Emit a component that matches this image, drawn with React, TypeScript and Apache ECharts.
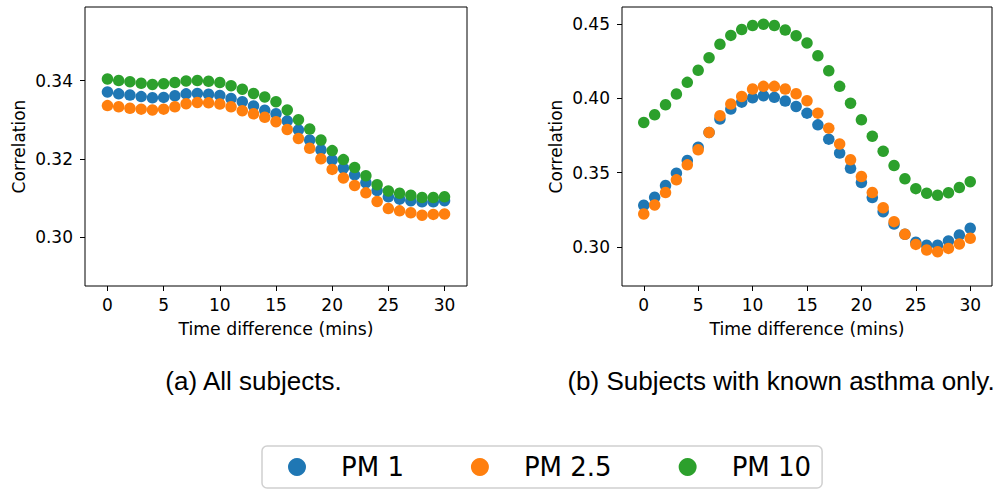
import React, { useEffect, useRef } from "react";
import * as echarts from "echarts";

const timeDiffs = [0, 1, 2, 3, 4, 5, 6, 7, 8, 9, 10, 11, 12, 13, 14, 15, 16, 17, 18, 19, 20, 21, 22, 23, 24, 25, 26, 27, 28, 29, 30];
const xTicks = [0, 5, 10, 15, 20, 25, 30];
const leftYTicks = [0.3, 0.32, 0.34];
const rightYTicks = [0.3, 0.35, 0.4, 0.45];
const seriesNames = ["PM 1", "PM 2.5", "PM 10"];
const colors = ["#1f77b4", "#ff7f0e", "#2ca02c"];

// (a) All subjects
const allPm1 = [0.3371, 0.3366, 0.3363, 0.3359, 0.3356, 0.3357, 0.3361, 0.3366, 0.3367, 0.3365, 0.3362, 0.3354, 0.3346, 0.3335, 0.3324, 0.3315, 0.3297, 0.3274, 0.3248, 0.3223, 0.3197, 0.3176, 0.3159, 0.3139, 0.3119, 0.3103, 0.3097, 0.3093, 0.309, 0.309, 0.3093];
const allPm25 = [0.3336, 0.3333, 0.3329, 0.3327, 0.3325, 0.3327, 0.3333, 0.3341, 0.3344, 0.3343, 0.334, 0.3333, 0.3323, 0.3315, 0.3306, 0.3295, 0.3275, 0.3252, 0.3227, 0.32, 0.3173, 0.3151, 0.3132, 0.3113, 0.3091, 0.3073, 0.3067, 0.3062, 0.3056, 0.3058, 0.3059];
const allPm10 = [0.3404, 0.34, 0.3397, 0.3393, 0.339, 0.3392, 0.3395, 0.3399, 0.34, 0.3398, 0.3395, 0.3387, 0.3378, 0.3367, 0.3358, 0.3346, 0.3325, 0.33, 0.3276, 0.3248, 0.3221, 0.3198, 0.3178, 0.3157, 0.3134, 0.3118, 0.3112, 0.3107, 0.3101, 0.3101, 0.3103];

// (b) Subjects with known asthma only
const asthmaPm1 = [0.328, 0.3334, 0.3413, 0.3496, 0.3581, 0.3671, 0.377, 0.386, 0.3927, 0.3974, 0.4003, 0.4017, 0.4006, 0.3981, 0.3945, 0.39, 0.3821, 0.3725, 0.3631, 0.3529, 0.3433, 0.3332, 0.3237, 0.3154, 0.3085, 0.3031, 0.3011, 0.3011, 0.304, 0.308, 0.3125];
const asthmaPm25 = [0.3222, 0.3282, 0.3366, 0.3451, 0.3552, 0.3653, 0.377, 0.3882, 0.3961, 0.4012, 0.4062, 0.408, 0.408, 0.4062, 0.403, 0.3983, 0.39, 0.3799, 0.3693, 0.3586, 0.3473, 0.3366, 0.3264, 0.317, 0.3085, 0.3017, 0.2979, 0.2968, 0.299, 0.302, 0.3058];
const asthmaPm10 = [0.3837, 0.3889, 0.3956, 0.4028, 0.4107, 0.4188, 0.4273, 0.4363, 0.4423, 0.4462, 0.4489, 0.4498, 0.4489, 0.4459, 0.4421, 0.4372, 0.4286, 0.4185, 0.408, 0.3967, 0.3855, 0.3745, 0.3644, 0.3547, 0.3458, 0.3392, 0.3361, 0.3347, 0.3365, 0.3399, 0.3439];

const captions = ["(a) All subjects.", "(b) Subjects with known asthma only."];

const FONT = "DejaVu Sans";

function xAxisCfg(gridIndex: number) {
  return {
    type: "value",
    gridIndex,
    min: -2,
    max: 32,
    name: "Time difference (mins)",
    nameLocation: "middle",
    nameGap: 34,
    nameTextStyle: { fontFamily: FONT, fontSize: 17.3, color: "#000" },
    axisLine: { show: false, onZero: false },
    axisTick: { show: true, customValues: xTicks, length: 5, lineStyle: { color: "#000", width: 1 } },
    axisLabel: { customValues: xTicks, margin: 10, fontFamily: FONT, fontSize: 17, color: "#000", formatter: (v: number) => String(v) },
    splitLine: { show: false },
  };
}

function yAxisCfg(gridIndex: number, min: number, max: number, ticks: number[]) {
  return {
    type: "value",
    gridIndex,
    min,
    max,
    name: "Correlation",
    nameLocation: "middle",
    nameRotate: 90,
    nameGap: 58,
    nameTextStyle: { fontFamily: FONT, fontSize: 17, color: "#000" },
    axisLine: { show: false, onZero: false },
    axisTick: { show: true, customValues: ticks, length: 5, lineStyle: { color: "#000", width: 1 } },
    axisLabel: { customValues: ticks, margin: 12, fontFamily: FONT, fontSize: 17, color: "#000", formatter: (v: number) => v.toFixed(2) },
    splitLine: { show: false },
  };
}

function scatter(name: string, values: number[], idx: number, color: string) {
  return {
    type: "scatter",
    name,
    xAxisIndex: idx,
    yAxisIndex: idx,
    symbol: "circle",
    symbolSize: 11.5,
    itemStyle: { color, opacity: 1 },
    emphasis: { disabled: true },
    data: timeDiffs.map((t, i) => [t, values[i]]),
  };
}

export default function App() {
  const ref = useRef<HTMLDivElement>(null);
  useEffect(() => {
    document.body.style.margin = "0";
    const chart = echarts.init(ref.current!, null, { renderer: "svg" });
    chart.setOption({
      animation: false,
      backgroundColor: "#fff",
      grid: [
        { left: 85, top: 7, width: 382, height: 279, show: true, borderColor: "#000", borderWidth: 1, backgroundColor: "transparent" },
        { left: 622, top: 7, width: 370, height: 279, show: true, borderColor: "#000", borderWidth: 1, backgroundColor: "transparent" },
      ],
      xAxis: [xAxisCfg(0), xAxisCfg(1)],
      yAxis: [yAxisCfg(0, 0.2875, 0.3588, leftYTicks), yAxisCfg(1, 0.2737, 0.4614, rightYTicks)],
      legend: {
        data: seriesNames.map((n) => ({ name: n, icon: "circle" })),
        left: 262,
        top: 446,
        orient: "horizontal",
        itemWidth: 18,
        itemHeight: 18,
        itemGap: 67,
        padding: [8, 11, 8, 26],
        borderColor: "#d0d0d0",
        borderWidth: 1.5,
        borderRadius: 5,
        selectedMode: false,
        textStyle: { fontFamily: FONT, fontSize: 26, color: "#000", padding: [0, 0, 0, 30] },
      },
      graphic: [
        { type: "text", x: 253.5, y: 381, style: { text: captions[0], font: "26px 'Liberation Sans'", fill: "#000", textAlign: "center", textVerticalAlign: "middle" } },
        { type: "text", x: 781, y: 381, style: { text: captions[1], font: "26px 'Liberation Sans'", fill: "#000", textAlign: "center", textVerticalAlign: "middle" } },
      ],
      series: [
        scatter(seriesNames[0], allPm1, 0, colors[0]),
        scatter(seriesNames[1], allPm25, 0, colors[1]),
        scatter(seriesNames[2], allPm10, 0, colors[2]),
        scatter(seriesNames[0], asthmaPm1, 1, colors[0]),
        scatter(seriesNames[1], asthmaPm25, 1, colors[1]),
        scatter(seriesNames[2], asthmaPm10, 1, colors[2]),
      ],
    });
    return () => chart.dispose();
  }, []);
  return <div ref={ref} style={{ position: "absolute", left: 0, top: 0, width: 998, height: 490 }} />;
}
